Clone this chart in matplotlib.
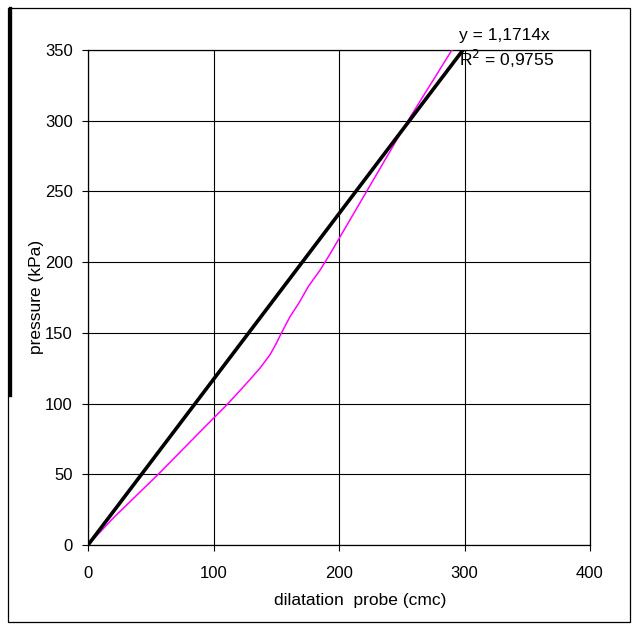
import matplotlib
matplotlib.use("Agg")
import matplotlib.pyplot as plt
import matplotlib.patches as mpatches
from matplotlib.lines import Line2D
import numpy as np

plt.rcParams["font.family"] = ["Liberation Sans", "DejaVu Sans"]

# measured curve (magenta)
probe_cmc = [0, 20, 56, 92, 110.5, 124, 137, 145, 150, 154, 161, 168, 175.5,
             185, 193, 222, 249, 257, 290, 296]
pressure_kpa = [0, 19, 50, 82.5, 99, 112, 125, 134.5, 142.5, 149.7, 161.5, 171, 182.7,
                194.5, 206, 250, 291, 303, 350, 359]

# linear trend through origin
trend_slope = 1.1714
trend_r2 = 0.9755
trend_x = [0, 299]

x_ticks = [0, 100, 200, 300, 400]
y_ticks = [0, 50, 100, 150, 200, 250, 300, 350]

W, H = 637, 630
fig = plt.figure(figsize=(W / 100, H / 100), dpi=100, facecolor="white")
ax = fig.add_axes([88 / W, (H - 545) / H, 502 / W, 495 / H])

ax.plot(probe_cmc, pressure_kpa, color="#FF00FF", lw=1.1, zorder=3)
tx = np.array(trend_x, dtype=float)
ax.plot(tx, trend_slope * tx, color="black", lw=2.6, zorder=4, solid_capstyle="butt")

ax.set_xlim(0, 400)
ax.set_ylim(0, 350)
ax.set_xticks(x_ticks)
ax.set_yticks(y_ticks)
ax.grid(True, color="black", lw=0.8)
ax.set_axisbelow(True)
for s in ax.spines.values():
    s.set_color("black")
    s.set_linewidth(0.9)
ax.tick_params(axis="both", direction="out", length=4.5, width=0.8, labelsize=12, colors="black")
ax.tick_params(axis="y", pad=6.5)
ax.tick_params(axis="x", pad=10.5)

ax.text(295.6, 360.5, "y = 1,1714x", fontsize=12.5, ha="left", va="center", clip_on=False)
ax.text(295.6, 343.5, "R$^2$ = 0,9755", fontsize=12.5, ha="left", va="center", clip_on=False)

fig.text(360 / W, (H - 601) / H, "dilatation  probe (cmc)", fontsize=12.5, ha="center", va="center")
fig.text(36 / W, (H - 297) / H, "pressure (kPa)", fontsize=12.5, ha="center", va="center", rotation=90)

# outer chart frame
fig.add_artist(mpatches.Rectangle((8 / W, (H - 622) / H), 622 / W, 614 / H,
                                  transform=fig.transFigure, fill=False, ec="black", lw=0.9))
fig.add_artist(Line2D([9.5 / W, 9.5 / W], [(H - 395) / H, (H - 8) / H],
                      transform=fig.transFigure, color="black", lw=2.4))

fig.savefig("out.png", dpi=100, facecolor="white")
